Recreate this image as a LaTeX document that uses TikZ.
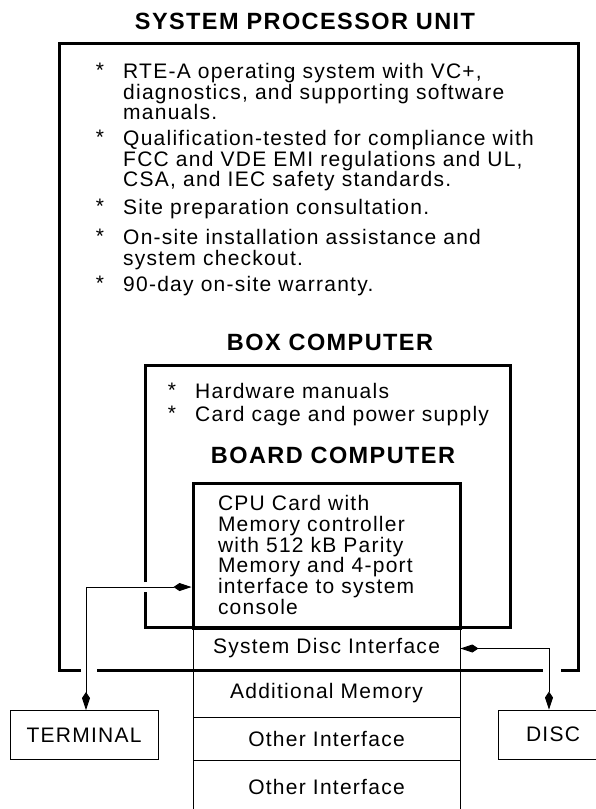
\documentclass[tikz,border=0pt]{standalone}
\usepackage{fontspec}
\usepackage{tikz}
\usetikzlibrary{positioning,arrows.meta,calc}
\newfontfamily\hpfont{Liberation Sans}[LetterSpace=6]

\begin{document}
\begin{tikzpicture}[
  x=1pt, y=-1pt,
  >={Kite[length=18pt,width=8pt,inset=6pt]},
  txt/.style={font=\hpfont\fontsize{21}{20.7}\selectfont, inner sep=0pt, align=left},
  ttl/.style={font=\hpfont\bfseries\fontsize{23.5}{26}\selectfont, inner sep=0pt},
  frame/.style={line width=3pt},
  cell/.style={txt, draw, line width=0.9pt, minimum width=267pt, align=center},
  dev/.style={txt, draw, line width=0.9pt, minimum height=49pt, align=center},
  link/.style={<->, line width=0.9pt},
]
  \useasboundingbox (0,0) rectangle (595,809);
  % system processor unit
  \node[ttl] (spu) at (305,21) {SYSTEM PROCESSOR UNIT};
  \draw[frame] (81,670) -- (59,670) -- (59,43) -- (578,43) -- (578,670) -- (561,670);
  \draw[frame] (97,670) -- (543,670);
  \node[txt, anchor=north] (s1) at (100,63) {*};
  \node[txt, anchor=north west] (p1) at (123,63)
    {RTE-A operating system with VC+,\\diagnostics, and supporting software\\manuals.};
  \node[txt, anchor=north] (s2) at (100,130) {*};
  \node[txt, anchor=north west] (p2) at (123,130)
    {Qualification-tested for compliance with\\FCC and VDE EMI regulations and UL,\\CSA, and IEC safety standards.};
  \node[txt, anchor=north] (s3) at (100,199) {*};
  \node[txt, anchor=north west] (p3) at (123,199) {Site preparation consultation.};
  \node[txt, anchor=north] (s4) at (100,229) {*};
  \node[txt, anchor=north west] (p4) at (123,229)
    {On-site installation assistance and\\system checkout.};
  \node[txt, anchor=north] (s5) at (100,276) {*};
  \node[txt, anchor=north west] (p5) at (123,276) {90-day on-site warranty.};
  % box computer
  \node[ttl] (box) at (330,342) {BOX COMPUTER};
  \draw[frame] (145,582) -- (145,365) -- (510,365) -- (510,627) -- (145,627) -- (145,592);
  \node[txt, anchor=north] (b1) at (172,383) {*};
  \node[txt, anchor=north west] (q1) at (195,383) {Hardware manuals};
  \node[txt, anchor=north] (b2) at (172,406) {*};
  \node[txt, anchor=north west] (q2) at (195,406) {Card cage and power supply};
  % board computer
  \node[ttl] (brd) at (333,455) {BOARD COMPUTER};
  \node[txt, draw, line width=3pt, minimum width=267pt, minimum height=144pt,
        text width=217pt, inner xsep=25pt] (board) at (326.5,555)
    {CPU Card with\\Memory controller\\with 512 kB Parity\\Memory and 4-port\\interface to system\\console};
  % card slots
  \node[cell, minimum height=43pt] (sdi) at (326.5,648.5) {System Disc Interface};
  \node[cell, minimum height=47pt] (mem) at (326.5,693.5) {Additional Memory};
  \node[cell, minimum height=43pt] (oi1) at (326.5,738.5) {Other Interface};
  \node[cell, minimum height=54pt] (oi2) at (326.5,787) {Other Interface};
  \draw[frame] (board.south west) -- (board.south east);
  \draw[frame] (97,670) -- (543,670);
  % peripherals
  \node[dev, minimum width=148pt] (term) at (84,735) {TERMINAL};
  \node[dev, minimum width=110pt] (disc) at (553,734.5) {DISC};
  \draw[link] ([xshift=2pt]term.north) |- ([yshift=-32pt]board.west);
  \draw[link] (sdi.east) -| ([xshift=-4pt]disc.north);
\end{tikzpicture}
\end{document}
